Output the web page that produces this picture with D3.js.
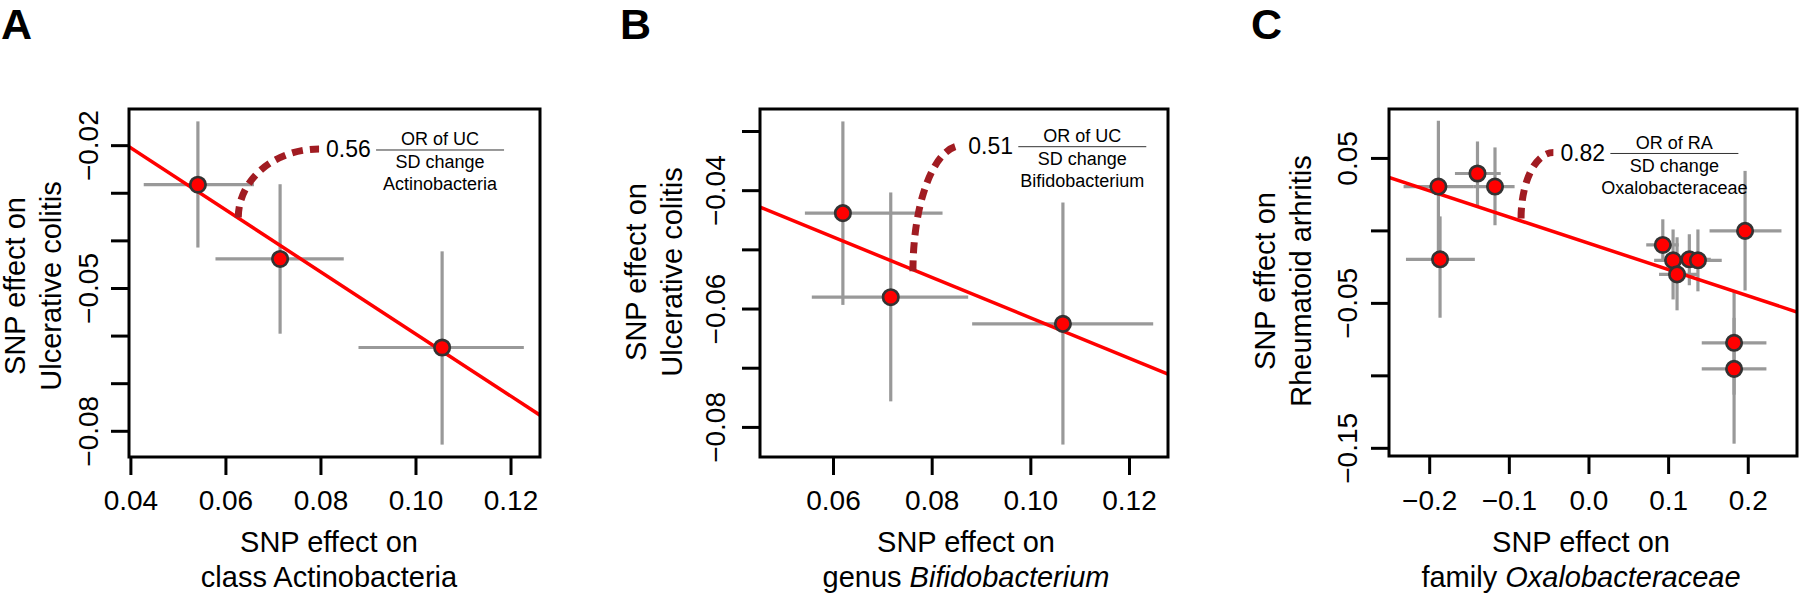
<!DOCTYPE html>
<html><head><meta charset="utf-8">
<script src="https://cdn.jsdelivr.net/npm/d3@7"></script>
<style>body{margin:0;background:#fff}svg{display:block}text{font-family:"Liberation Sans",Arial,Helvetica,sans-serif}</style>
</head><body><svg id="c" width="1800" height="594"></svg>
<script>
// ---------- Panel A data ----------
const aX   = [0.0541, 0.0714, 0.1055];
const aY   = [-0.0282, -0.0438, -0.0624];
const aXLo = [0.0427, 0.0578, 0.0879];
const aXHi = [0.0659, 0.0848, 0.1227];
const aYLo = [-0.0414, -0.0595, -0.0828];
const aYHi = [-0.0149, -0.0281, -0.0422];
const aFit = [0.0056, -0.652];              // intercept, slope
const aXTicks = [0.04, 0.06, 0.08, 0.10, 0.12];
const aXTickLabels = ["0.04", "0.06", "0.08", "0.10", "0.12"];
const aYTicks = [-0.02, -0.03, -0.04, -0.05, -0.06, -0.07, -0.08];
const aYTickLabels = ["−0.02", "", "", "−0.05", "", "", "−0.08"];
const aArc = [0.0626, -0.0351, 0.0796, -0.0207]; // start x,y ; end x,y
const aOR = "0.56";
const aFrac = ["OR of UC", "SD change", "Actinobacteria"];

// ---------- Panel B data ----------
const bX   = [0.0619, 0.0716, 0.1065];
const bY   = [-0.0438, -0.0580, -0.0625];
const bXLo = [0.0542, 0.0556, 0.0881];
const bXHi = [0.0821, 0.0873, 0.1248];
const bYLo = [-0.0593, -0.0756, -0.0829];
const bYHi = [-0.0283, -0.0403, -0.0420];
const bFit = [-0.0274, -0.341];
const bXTicks = [0.06, 0.08, 0.10, 0.12];
const bXTickLabels = ["0.06", "0.08", "0.10", "0.12"];
const bYTicks = [-0.03, -0.04, -0.05, -0.06, -0.07, -0.08];
const bYTickLabels = ["", "−0.04", "", "−0.06", "", "−0.08"];
const bArc = [0.0761, -0.0536, 0.0859, -0.0324];
const bOR = "0.51";
const bFrac = ["OR of UC", "SD change", "Bifidobacterium"];

// ---------- Panel C data ----------
const cX   = [-0.1891, -0.140, -0.118, -0.187, 0.0927, 0.1056, 0.1106, 0.1260, 0.1368, 0.196, 0.1822, 0.1822];
const cY   = [0.0306, 0.0396, 0.0306, -0.0196, -0.0097, -0.0203, -0.0300, -0.0196, -0.0203, 0.0, -0.0772, -0.0952];
const cXLo = [-0.2328, -0.1683, -0.1454, -0.2298, 0.0719, 0.0818, 0.088, 0.103, 0.113, 0.1514, 0.1416, 0.1416];
const cXHi = [-0.1454, -0.1108, -0.0934, -0.1433, 0.1127, 0.1318, 0.138, 0.153, 0.1667, 0.2417, 0.2228, 0.2228];
const cYLo = [-0.015, 0.0166, 0.0039, -0.0599, -0.021, -0.0473, -0.0548, -0.0375, -0.0417, -0.0411, -0.113, -0.1468];
const cYHi = [0.076, 0.0617, 0.0576, 0.010, 0.008, 0.001, -0.0044, -0.0023, 0.001, 0.0414, -0.0415, -0.060];
const cFit = [-0.0086, -0.1813];
const cXTicks = [-0.2, -0.1, 0.0, 0.1, 0.2];
const cXTickLabels = ["−0.2", "−0.1", "0.0", "0.1", "0.2"];
const cYTicks = [0.05, 0.0, -0.05, -0.10, -0.15];
const cYTickLabels = ["0.05", "", "−0.05", "", "−0.15"];
const cArc = [-0.0853, 0.0085, -0.0447, 0.0541];
const cOR = "0.82";
const cFrac = ["OR of RA", "SD change", "Oxalobacteraceae"];

// ---------- layout ----------
const panels = [
  {letter:"A", lx:1, box:[129,540,109,457], xd:[0.0396,0.1261], yd:[-0.0854,-0.0123],
   X:aX,Y:aY,XLo:aXLo,XHi:aXHi,YLo:aYLo,YHi:aYHi,fit:aFit,xt:aXTicks,xtl:aXTickLabels,yt:aYTicks,ytl:aYTickLabels,
   arc:aArc,or:aOR,frac:aFrac, ylab:["SNP effect on","Ulcerative colitis"], ylx:[15,51], yly:286, ytlx:88,
   xlab:[["SNP effect on",""],["class Actinobacteria",""]], xlx:329},
  {letter:"B", lx:620, box:[760,1168,109,457], xd:[0.0451,0.1278], yd:[-0.085,-0.0262],
   X:bX,Y:bY,XLo:bXLo,XHi:bXHi,YLo:bYLo,YHi:bYHi,fit:bFit,xt:bXTicks,xtl:bXTickLabels,yt:bYTicks,ytl:bYTickLabels,
   arc:bArc,or:bOR,frac:bFrac, ylab:["SNP effect on","Ulcerative colitis"], ylx:[636,672], yly:272, ytlx:715,
   xlab:[["SNP effect on",""],["genus ","Bifidobacterium"]], xlx:966},
  {letter:"C", lx:1251, box:[1389,1797,109,456], xd:[-0.2511,0.2612], yd:[-0.1553,0.0841],
   X:cX,Y:cY,XLo:cXLo,XHi:cXHi,YLo:cYLo,YHi:cYHi,fit:cFit,xt:cXTicks,xtl:cXTickLabels,yt:cYTicks,ytl:cYTickLabels,
   arc:cArc,or:cOR,frac:cFrac, ylab:["SNP effect on","Rheumatoid arhritis"], ylx:[1265,1301], yly:281, ytlx:1347,
   xlab:[["SNP effect on",""],["family ","Oxalobacteraceae"]], xlx:1581}
];

const svg = d3.select("#c");
svg.append("rect").attr("width",1800).attr("height",594).attr("fill","#fff");
const defs = svg.append("defs");

panels.forEach((p,pi)=>{
  const [L,R,T,B] = p.box;
  const x = d3.scaleLinear().domain(p.xd).range([L,R]);
  const y = d3.scaleLinear().domain(p.yd).range([B,T]);
  const g = svg.append("g");
  const cid = "clip"+pi;
  defs.append("clipPath").attr("id",cid).append("rect").attr("x",L).attr("y",T).attr("width",R-L).attr("height",B-T);

  // panel letter
  g.append("text").attr("x",p.lx).attr("y",39).attr("font-size",43).attr("font-weight","bold").text(p.letter);

  const inner = g.append("g").attr("clip-path",`url(#${cid})`);
  // error bars
  p.X.forEach((xv,i)=>{
    inner.append("line").attr("x1",x(p.XLo[i])).attr("x2",x(p.XHi[i])).attr("y1",y(p.Y[i])).attr("y2",y(p.Y[i]))
      .attr("stroke","#999").attr("stroke-width",3.2);
    inner.append("line").attr("x1",x(xv)).attr("x2",x(xv)).attr("y1",y(p.YLo[i])).attr("y2",y(p.YHi[i]))
      .attr("stroke","#999").attr("stroke-width",3.2);
  });
  // regression line
  inner.append("line").attr("x1",x(p.xd[0])).attr("y1",y(p.fit[0]+p.fit[1]*p.xd[0]))
    .attr("x2",x(p.xd[1])).attr("y2",y(p.fit[0]+p.fit[1]*p.xd[1]))
    .attr("stroke","#ff0000").attr("stroke-width",3.5);
  // dashed arc
  const sx=x(p.arc[0]), sy=y(p.arc[1]), ex=x(p.arc[2]), ey=y(p.arc[3]);
  inner.append("path").attr("d",`M${sx},${sy} A${ex-sx},${sy-ey} 0 0 1 ${ex},${ey}`)
    .attr("fill","none").attr("stroke","#a11c22").attr("stroke-width",7).attr("stroke-dasharray","11,7");
  // points
  p.X.forEach((xv,i)=>{
    inner.append("circle").attr("cx",x(xv)).attr("cy",y(p.Y[i])).attr("r",7.7)
      .attr("fill","#ff0000").attr("stroke","#333").attr("stroke-width",2.7);
  });
  // annotation
  const tx = ex + 7;
  g.append("text").attr("x",tx).attr("y",ey).attr("dy","0.35em").attr("font-size",23).text(p.or);
  const fl = tx + 50, fr = fl + 128, fc = (fl+fr)/2, fy = ey + 1;
  g.append("line").attr("x1",fl).attr("x2",fr).attr("y1",fy).attr("y2",fy).attr("stroke","#333").attr("stroke-width",1);
  g.append("text").attr("x",fc).attr("y",fy-11).attr("dy","0.35em").attr("text-anchor","middle").attr("font-size",18).text(p.frac[0]);
  g.append("text").attr("x",fc).attr("y",fy+12).attr("dy","0.35em").attr("text-anchor","middle").attr("font-size",18).text(p.frac[1]);
  g.append("text").attr("x",fc).attr("y",fy+34).attr("dy","0.35em").attr("text-anchor","middle").attr("font-size",18).text(p.frac[2]);

  // box
  g.append("rect").attr("x",L).attr("y",T).attr("width",R-L).attr("height",B-T)
    .attr("fill","none").attr("stroke","#000").attr("stroke-width",3);
  // x ticks
  p.xt.forEach((t,i)=>{
    g.append("line").attr("x1",x(t)).attr("x2",x(t)).attr("y1",B+1).attr("y2",B+18).attr("stroke","#000").attr("stroke-width",3);
    g.append("text").attr("x",x(t)).attr("y",510).attr("text-anchor","middle").attr("font-size",28).text(p.xtl[i]);
  });
  // y ticks
  p.yt.forEach((t,i)=>{
    g.append("line").attr("x1",L-1).attr("x2",L-18).attr("y1",y(t)).attr("y2",y(t)).attr("stroke","#000").attr("stroke-width",3);
    if (p.ytl[i]) g.append("text").attr("transform",`translate(${p.ytlx},${y(t)}) rotate(-90)`).attr("dy","0.35em")
      .attr("text-anchor","middle").attr("font-size",28).text(p.ytl[i]);
  });
  // y title
  p.ylab.forEach((s,i)=>{
    g.append("text").attr("transform",`translate(${p.ylx[i]},${p.yly}) rotate(-90)`).attr("dy","0.35em")
      .attr("text-anchor","middle").attr("font-size",29).text(s);
  });
  // x title
  p.xlab.forEach((parts,i)=>{
    const t = g.append("text").attr("x",p.xlx).attr("y",i===0?552:587).attr("text-anchor","middle").attr("font-size",29);
    t.append("tspan").text(parts[0]);
    if (parts[1]) t.append("tspan").attr("font-style","italic").text(parts[1]);
  });
});
</script></body></html>
